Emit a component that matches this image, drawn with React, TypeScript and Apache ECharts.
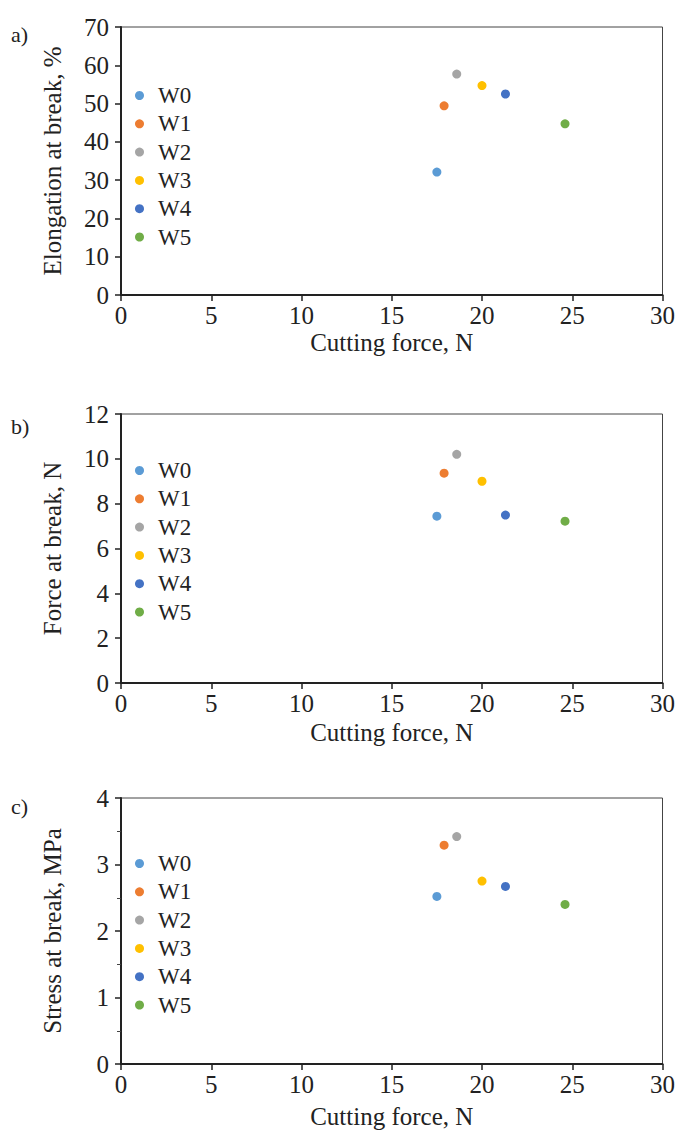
import React, { useEffect, useRef } from "react";
import * as echarts from "echarts";

const seriesNames = ["W0", "W1", "W2", "W3", "W4", "W5"];
const seriesColors = ["#5B9BD5", "#ED7D31", "#A5A5A5", "#FFC000", "#4472C4", "#70AD47"];
const cuttingForce = [17.5, 17.9, 18.6, 20.0, 21.3, 24.6];
const elongationAtBreak = [32.1, 49.4, 57.7, 54.7, 52.5, 44.7];
const forceAtBreak = [7.44, 9.36, 10.2, 9.0, 7.49, 7.22];
const stressAtBreak = [2.52, 3.29, 3.42, 2.75, 2.67, 2.4];

const panelLetters = ["a)", "b)", "c)"];
const yAxisNames = ["Elongation at break, %", "Force at break, N", "Stress at break, MPa"];
const xAxisName = "Cutting force, N";

const FONT = "'Liberation Serif', 'Times New Roman', serif";

export default function App() {
  const ref = useRef<HTMLDivElement>(null);
  useEffect(() => {
    if (!ref.current) return;
    const chart = echarts.init(ref.current, null, { renderer: "svg" });

    const panels = [
      { top: 27, height: 268, max: 70, interval: 10, minor: false, values: elongationAtBreak, legendTop: 84, nameGapX: 35, letterY: 23 },
      { top: 414, height: 269, max: 12, interval: 2, minor: false, values: forceAtBreak, legendTop: 459, nameGapX: 37, letterY: 415 },
      { top: 798, height: 266, max: 4, interval: 1, minor: true, values: stressAtBreak, legendTop: 852, nameGapX: 40, letterY: 795 },
    ];

    const grid = panels.map((p) => ({
      left: 121,
      top: p.top,
      width: 543,
      height: p.height,
      show: true,
      borderColor: "#444",
      borderWidth: 1,
      containLabel: false,
    }));

    const xAxis = panels.map((p, i) => ({
      type: "value",
      gridIndex: i,
      min: 0,
      max: 30,
      interval: 5,
      name: xAxisName,
      nameLocation: "middle",
      nameGap: p.nameGapX,
      nameTextStyle: { fontFamily: FONT, fontSize: 25, color: "#222" },
      axisLine: { show: true, onZero: false, lineStyle: { color: "#222", width: 2 } },
      axisTick: { show: true, inside: false, length: 6, lineStyle: { color: "#222", width: 1.5 } },
      axisLabel: { fontFamily: FONT, fontSize: 25, color: "#222", margin: 8 },
      splitLine: { show: false },
    }));

    const yAxis = panels.map((p, i) => ({
      type: "value",
      gridIndex: i,
      min: 0,
      max: p.max,
      interval: p.interval,
      name: yAxisNames[i],
      nameLocation: "middle",
      nameGap: 56,
      nameTextStyle: { fontFamily: FONT, fontSize: 25, color: "#222" },
      axisLine: { show: true, onZero: false, lineStyle: { color: "#222", width: 2 } },
      axisTick: { show: true, inside: false, length: 6, lineStyle: { color: "#222", width: 1.5 } },
      minorTick: { show: p.minor, splitNumber: 2, length: 4, lineStyle: { color: "#444", width: 1 } },
      axisLabel: { fontFamily: FONT, fontSize: 25, color: "#222", margin: 12 },
      splitLine: { show: false },
    }));

    const series: any[] = [];
    panels.forEach((p, gi) => {
      seriesNames.forEach((name, si) => {
        series.push({
          type: "scatter",
          name,
          xAxisIndex: gi,
          yAxisIndex: gi,
          symbol: "circle",
          symbolSize: 9,
          itemStyle: { color: seriesColors[si], opacity: 1 },
          data: [[cuttingForce[si], p.values[si]]],
        });
      });
    });

    const legend = panels.map((p) => ({
      orient: "vertical",
      left: 135,
      top: p.legendTop,
      padding: 0,
      icon: "circle",
      itemWidth: 27,
      itemHeight: 9,
      itemGap: 5.3,
      selectedMode: false,
      data: seriesNames,
      itemStyle: { opacity: 1 },
      textStyle: { fontFamily: FONT, fontSize: 23, color: "#222", lineHeight: 23 },
    }));

    const graphic = panels.map((p, i) => ({
      type: "text",
      left: 11,
      top: p.letterY,
      style: { text: panelLetters[i], font: `22px ${FONT}`, fill: "#222" },
    }));

    chart.setOption({
      animation: false,
      backgroundColor: "#fff",
      color: seriesColors,
      grid,
      xAxis,
      yAxis,
      legend,
      series,
      graphic,
    });
    return () => chart.dispose();
  }, []);

  return (
    <div
      ref={ref}
      style={{ position: "absolute", left: 0, top: 0, width: 678, height: 1131 }}
    />
  );
}
